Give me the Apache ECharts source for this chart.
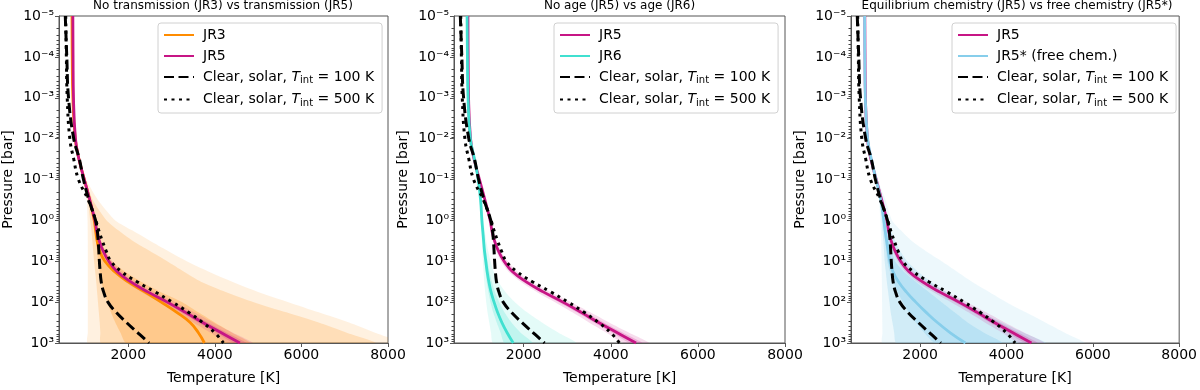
<!DOCTYPE html>
<html>

<head>
    <title>Temperature-pressure profiles</title>
    <meta charset="utf-8">
    <script src="https://cdn.jsdelivr.net/npm/echarts@6/dist/echarts.min.js"></script>
    <style>
        body { margin: 0; background: #fff; }
    </style>
</head>

<body>
    <div id="main" style="width: 1200px;height:390px;"></div>

    <script type="text/javascript">
        // pressure levels [bar] the profiles were read at
        var pressure = [1e-5, 1e-4, 1e-3, 1e-2, 0.0316, 0.1, 0.316, 1, 1.78, 3.16,
            5.62, 10, 17.8, 31.6, 56.2, 100, 178, 316, 562, 1000];

        // self-consistent reference models (same in all panels)
        var tint100 = [545, 580, 620, 740, 870, 965, 1090, 1245, 1285, 1305, 1320, 1333, 1350, 1375, 1430, 1530, 1720, 1960, 2220, 2480];
        var tint500 = [555, 570, 590, 650, 740, 850, 1075, 1250, 1320, 1400, 1490, 1600, 1840, 2200, 2620, 3020, 3390, 3720, 4000, 4200];

        // JR3 (no transmission)
        var jr3 = [700, 705, 720, 775, 860, 985, 1110, 1215, 1245, 1280, 1340, 1460, 1680, 1990, 2380, 2760, 3120, 3430, 3620, 3760];
        var jr3Lo3 = [695, 700, 712, 760, 835, 940, 1040, 1060, 1063, 1065, 1065, 1065, 1065, 1065, 1065, 1065, 1065, 1065, 1065, 1065];
        var jr3Hi3 = [705, 712, 730, 800, 900, 1030, 1300, 1700, 2100, 2500, 2920, 3350, 3850, 4400, 5000, 5700, 6400, 7100, 7700, 8300];
        var jr3Lo2 = [697, 702, 715, 765, 845, 955, 1065, 1120, 1150, 1170, 1190, 1210, 1235, 1260, 1280, 1300, 1320, 1340, 1355, 1370];
        var jr3Hi2 = [703, 709, 726, 792, 885, 1010, 1180, 1500, 1780, 2100, 2500, 2900, 3280, 3680, 4250, 4900, 5650, 6400, 7050, 7700];
        var jr3Lo1 = [699, 704, 718, 770, 852, 970, 1090, 1180, 1225, 1255, 1280, 1300, 1340, 1380, 1440, 1520, 1600, 1700, 1820, 1950];
        var jr3Hi1 = [701, 707, 722, 782, 870, 1000, 1130, 1260, 1310, 1370, 1470, 1620, 1920, 2300, 2750, 3250, 3620, 4000, 4400, 4800];

        // JR5 (transmission, no age)
        var jr5 = [720, 725, 735, 780, 860, 985, 1110, 1230, 1270, 1330, 1420, 1550, 1740, 2050, 2450, 2900, 3320, 3720, 4150, 4580];
        var jr5Lo2 = [715, 720, 730, 772, 850, 972, 1095, 1210, 1245, 1295, 1370, 1480, 1650, 1930, 2300, 2720, 3120, 3500, 3900, 4300];
        var jr5Hi2 = [725, 730, 742, 790, 872, 1000, 1125, 1255, 1300, 1370, 1475, 1630, 1850, 2180, 2610, 3090, 3530, 3960, 4420, 4880];
        var jr5Lo1 = [718, 723, 733, 777, 856, 979, 1103, 1220, 1258, 1313, 1395, 1515, 1695, 1990, 2380, 2810, 3220, 3610, 4030, 4440];
        var jr5Hi1 = [722, 727, 738, 784, 865, 992, 1118, 1242, 1285, 1350, 1448, 1590, 1795, 2115, 2525, 2990, 3420, 3840, 4280, 4730];

        // JR6 (age)
        var jr6 = [700, 708, 722, 775, 870, 955, 1010, 1040, 1060, 1080, 1100, 1130, 1160, 1200, 1250, 1320, 1400, 1500, 1620, 1760];
        var jr6Lo2 = [697, 704, 717, 765, 855, 940, 990, 1015, 1028, 1040, 1052, 1065, 1080, 1095, 1115, 1140, 1170, 1210, 1250, 1300];
        var jr6Hi2 = [703, 712, 728, 785, 885, 975, 1040, 1080, 1105, 1140, 1185, 1240, 1310, 1420, 1580, 1800, 2080, 2420, 2800, 3200];
        var jr6Lo1 = [699, 706, 720, 770, 863, 948, 1000, 1028, 1045, 1062, 1080, 1100, 1125, 1150, 1190, 1240, 1300, 1380, 1470, 1560];
        var jr6Hi1 = [701, 710, 725, 780, 878, 965, 1025, 1058, 1080, 1105, 1135, 1170, 1215, 1270, 1340, 1440, 1560, 1720, 1930, 2200];

        // JR5* (free chemistry)
        var jr5s = [715, 720, 732, 785, 870, 980, 1090, 1160, 1190, 1225, 1260, 1300, 1370, 1500, 1680, 1900, 2140, 2400, 2700, 3050];
        var jr5sLo3 = [705, 712, 722, 768, 850, 955, 1050, 1080, 1090, 1100, 1105, 1110, 1112, 1115, 1118, 1120, 1122, 1125, 1128, 1130];
        var jr5sHi3 = [725, 730, 745, 810, 905, 1020, 1200, 1350, 1560, 1800, 2130, 2500, 2850, 3200, 3600, 4000, 4450, 4900, 5350, 5800];
        var jr5sLo2 = [709, 715, 726, 775, 858, 965, 1070, 1110, 1130, 1150, 1165, 1180, 1205, 1230, 1260, 1290, 1320, 1360, 1400, 1450];
        var jr5sHi2 = [721, 726, 740, 800, 890, 1000, 1150, 1260, 1330, 1420, 1540, 1700, 1950, 2250, 2600, 3000, 3430, 3900, 4400, 4900];
        var jr5sLo1 = [712, 717, 729, 780, 864, 972, 1080, 1135, 1162, 1190, 1215, 1240, 1300, 1380, 1480, 1600, 1740, 1900, 2100, 2350];
        var jr5sHi1 = [718, 723, 735, 790, 876, 988, 1100, 1200, 1250, 1300, 1350, 1420, 1620, 1900, 2200, 2500, 2800, 3100, 3480, 3900];

        var titles = ['No transmission (JR3) vs transmission (JR5)', 'No age (JR5) vs age (JR6)',
            'Equilibrium chemistry (JR5) vs free chemistry (JR5*)'];
        var xTicks = [2000, 4000, 6000, 8000];

        var NAME100 = 'Clear, solar, T_int = 100 K';
        var NAME500 = 'Clear, solar, T_int = 500 K';

        var ORANGE = '#ff8c00', MAGENTA = '#c71585', TURQ = '#40e0d0', SKY = '#87ceeb';
        var FONT = 'DejaVu Sans';

        // grid positions (px)
        var gridLeft = [58, 454, 851];
        var gridWidth = [330, 331, 332];

        // minor tick positions in log10 space
        var minorTicks = [];
        for (var e = -5; e < 3; e++) {
            for (var k = 2; k <= 9; k++) minorTicks.push(e + Math.log10(k));
        }

        var SUP = { '-': '\u207b', '0': '\u2070', '1': '\u00b9', '2': '\u00b2', '3': '\u00b3', '4': '\u2074',
            '5': '\u2075', '6': '\u2076', '7': '\u2077', '8': '\u2078', '9': '\u2079' };

        function powLabel(v) {
            var ex = String(Math.round(Math.log10(v)));
            return '10' + ex.split('').map(function (c) { return SUP[c]; }).join('');
        }

        function band(gi, lo, hi, color, z) {
            return {
                type: 'custom',
                xAxisIndex: gi,
                yAxisIndex: gi,
                clip: true,
                silent: true,
                z: z,
                data: pressure.map(function (p, i) { return [lo[i], hi[i], p]; }),
                encode: { x: [0, 1], y: 2 },
                renderItem: function (params, api) {
                    if (params.dataIndexInside !== 0) return null;
                    var left = [], right = [];
                    for (var i = 0; i < pressure.length; i++) {
                        left.push(api.coord([api.value(0, i), api.value(2, i)]));
                        right.push(api.coord([api.value(1, i), api.value(2, i)]));
                    }
                    return {
                        type: 'polygon',
                        shape: { points: left.concat(right.reverse()), smooth: 0.2 },
                        style: { fill: color }
                    };
                }
            };
        }

        function line(gi, name, temps, color, type, width, z) {
            return {
                type: 'line',
                name: name,
                xAxisIndex: gi,
                yAxisIndex: gi,
                data: temps.map(function (t, i) { return [t, pressure[i]]; }),
                symbol: 'none',
                smooth: 0.45,
                z: z,
                lineStyle: { color: color, width: width, type: type || 'solid' },
                itemStyle: { color: color }
            };
        }

        function refLines(gi) {
            return [
                line(gi, NAME100, tint100, '#000', [10, 4.5], 3, 10),
                line(gi, NAME500, tint500, '#000', [3, 4.5], 3, 10)
            ];
        }

        function magentaBands(gi) {
            return [
                band(gi, jr5Lo2, jr5Hi2, 'rgba(199,21,133,0.15)', 3),
                band(gi, jr5Lo1, jr5Hi1, 'rgba(199,21,133,0.2)', 3)
            ];
        }

        var series = [].concat(
            // panel 1
            band(0, jr3Lo3, jr3Hi3, 'rgba(255,140,0,0.12)', 1),
            band(0, jr3Lo2, jr3Hi2, 'rgba(255,140,0,0.18)', 1),
            band(0, jr3Lo1, jr3Hi1, 'rgba(255,140,0,0.24)', 1),
            magentaBands(0),
            line(0, 'JR3', jr3, ORANGE, 'solid', 2.8, 5),
            line(0, 'JR5', jr5, MAGENTA, 'solid', 2.8, 6),
            refLines(0),
            // panel 2
            magentaBands(1),
            band(1, jr6Lo2, jr6Hi2, 'rgba(64,224,208,0.14)', 2),
            band(1, jr6Lo1, jr6Hi1, 'rgba(64,224,208,0.22)', 2),
            line(1, 'JR5', jr5, MAGENTA, 'solid', 2.8, 5),
            line(1, 'JR6', jr6, TURQ, 'solid', 2.8, 6),
            refLines(1),
            // panel 3
            band(2, jr5sLo3, jr5sHi3, 'rgba(135,206,235,0.15)', 1),
            band(2, jr5sLo2, jr5sHi2, 'rgba(135,206,235,0.28)', 1),
            band(2, jr5sLo1, jr5sHi1, 'rgba(135,206,235,0.32)', 1),
            magentaBands(2),
            line(2, 'JR5', jr5, MAGENTA, 'solid', 2.8, 5),
            line(2, 'JR5* (free chem.)', jr5s, SKY, 'solid', 2.8, 6),
            refLines(2)
        );

        var legendNames = [
            ['JR3', 'JR5', NAME100, NAME500],
            ['JR5', 'JR6', NAME100, NAME500],
            ['JR5', 'JR5* (free chem.)', NAME100, NAME500]
        ];
        var legendLeft = [158, 554, 952];

        var grids = [], xAxes = [], yAxes = [], legends = [], titleList = [];
        for (var g = 0; g < 3; g++) {
            grids.push({
                left: gridLeft[g], width: gridWidth[g], top: 16, bottom: 40,
                show: true, borderColor: '#555', borderWidth: 1, backgroundColor: 'transparent'
            });
            xAxes.push({
                type: 'value', gridIndex: g, min: 400, max: 8000,
                name: 'Temperature [K]', nameLocation: 'middle', nameGap: 28,
                nameTextStyle: { fontSize: 14, color: '#000', fontFamily: FONT },
                axisLine: { onZero: false, lineStyle: { color: '#555' } },
                axisTick: { length: 4, customValues: xTicks, lineStyle: { color: '#555' } },
                axisLabel: {
                    customValues: xTicks, fontSize: 14, color: '#000', fontFamily: FONT, margin: 5,
                    formatter: function (v) { return String(v); }
                },
                splitLine: { show: false }
            });
            yAxes.push({
                type: 'log', logBase: 10, gridIndex: g, min: 1e-5, max: 1e3, inverse: true, splitNumber: 8,
                position: 'left',
                name: 'Pressure [bar]', nameLocation: 'middle', nameGap: 44,
                nameTextStyle: { fontSize: 14, color: '#000', fontFamily: FONT },
                axisLine: { onZero: false, lineStyle: { color: '#555' } },
                axisTick: { length: 4, lineStyle: { color: '#555' } },
                axisLabel: { formatter: powLabel, fontSize: 14, color: '#000', fontFamily: FONT, margin: 5 },
                splitLine: { show: false },
                minorTick: { show: false }
            });
            titleList.push({
                text: titles[g], left: gridLeft[g] + gridWidth[g] / 2, top: 0, textAlign: 'center', padding: 0,
                textStyle: { fontSize: 12, fontWeight: 'normal', color: '#000', fontFamily: FONT }
            });
            legends.push({
                data: legendNames[g], orient: 'vertical', left: legendLeft[g], top: 23,
                itemWidth: 30, itemHeight: 14, itemGap: 7, padding: [5, 8, 5, 5],
                borderColor: '#d0d0d0', borderWidth: 1, borderRadius: 3,
                backgroundColor: 'rgba(255,255,255,0.85)', selectedMode: false,
                itemStyle: { opacity: 0 },
                formatter: function (name) {
                    return name.replace('T_int', '{i|T}{s|int}');
                },
                textStyle: {
                    fontSize: 14, color: '#000', fontFamily: FONT, padding: [0, 0, 0, 4],
                    rich: {
                        i: { fontStyle: 'italic', fontSize: 14, fontFamily: FONT, color: '#000' },
                        s: { fontSize: 10, fontFamily: FONT, color: '#000', padding: [7, 0, 0, 0] }
                    }
                }
            });
        }
        // extra linear axes holding only the minor log ticks
        for (var m = 0; m < 3; m++) {
            yAxes.push({
                type: 'value', gridIndex: m, min: -5, max: 3, inverse: true, position: 'left',
                axisLine: { show: false, onZero: false }, axisLabel: { show: false }, splitLine: { show: false },
                axisTick: { show: true, length: 2.5, customValues: minorTicks, lineStyle: { color: '#444', width: 1 } }
            });
        }

        var myChart = echarts.init(document.getElementById('main'));
        myChart.setOption({
            animation: false,
            textStyle: { fontFamily: FONT },
            title: titleList,
            grid: grids,
            xAxis: xAxes,
            yAxis: yAxes,
            legend: legends,
            series: series
        });
    </script>
</body>

</html>
